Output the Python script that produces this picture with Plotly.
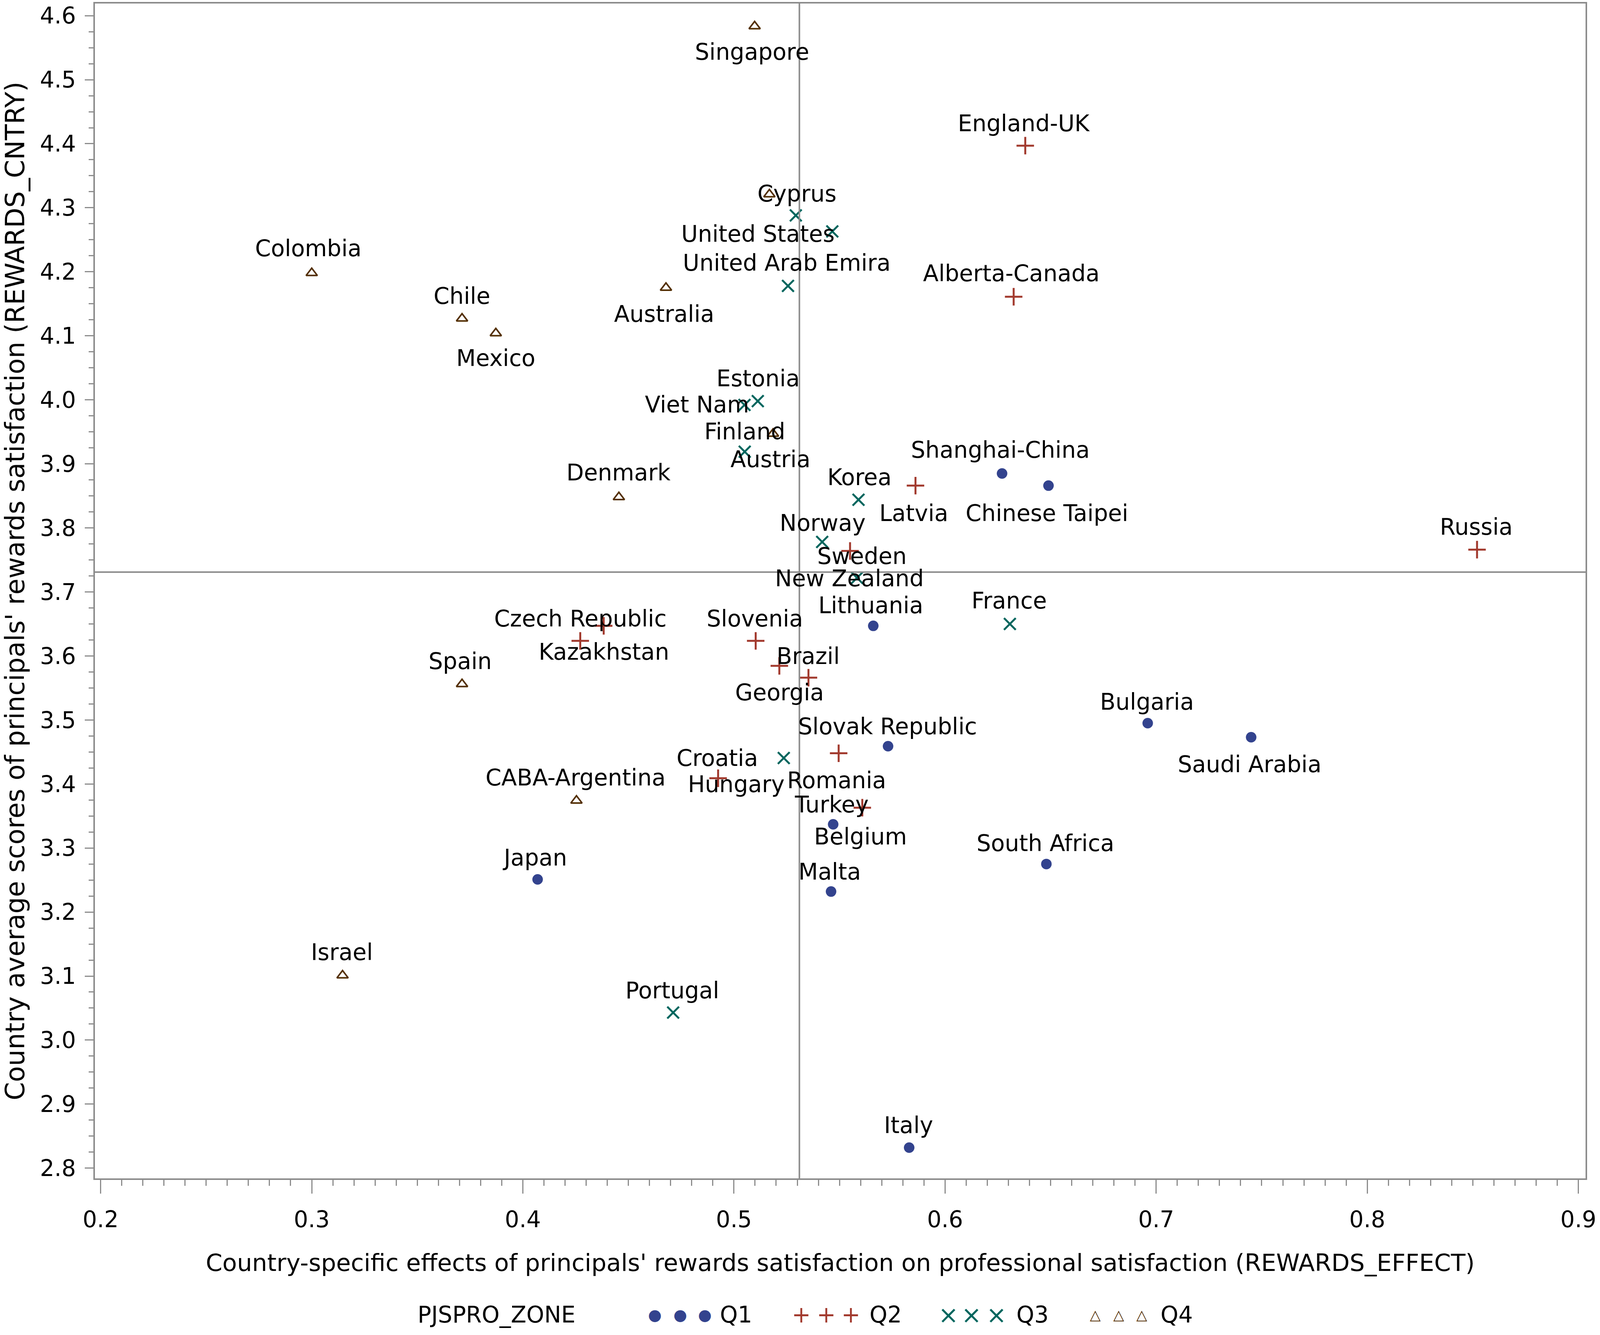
import plotly.graph_objects as go

# ---------------- data ----------------
q1_names = ["Shanghai-China", "Chinese Taipei", "Lithuania", "Slovak Republic", "Bulgaria",
            "Saudi Arabia", "Belgium", "Malta", "South Africa", "Japan", "Italy"]
q1_x = [0.627, 0.649, 0.566, 0.573, 0.696, 0.745, 0.547, 0.546, 0.648, 0.407, 0.583]
q1_y = [3.885, 3.866, 3.647, 3.459, 3.495, 3.473, 3.337, 3.232, 3.275, 3.251, 2.832]

q2_names = ["England-UK", "Alberta-Canada", "Latvia", "Russia", "Sweden", "Czech Republic",
            "Kazakhstan", "Slovenia", "Brazil", "Georgia", "Romania", "Hungary", "Turkey"]
q2_x = [0.638, 0.6325, 0.586, 0.852, 0.555, 0.4272, 0.4383, 0.5103, 0.5353, 0.5215, 0.5496, 0.4925, 0.5608]
q2_y = [4.397, 4.161, 3.866, 3.766, 3.764, 3.6235, 3.647, 3.6235, 3.566, 3.5845, 3.448, 3.409, 3.363]

q3_names = ["Cyprus", "United States", "United Arab Emira", "Estonia", "Viet Nam", "Finland",
            "Korea", "Norway", "New Zealand", "France", "Croatia", "Portugal"]
q3_x = [0.5293, 0.5466, 0.5256, 0.5113, 0.505, 0.5051, 0.559, 0.5418, 0.5583, 0.6307, 0.5236, 0.4712]
q3_y = [4.288, 4.263, 4.178, 3.998, 3.992, 3.919, 3.844, 3.778, 3.722, 3.650, 3.4405, 3.043]

q4_names = ["Singapore", "", "Colombia", "Chile", "Mexico", "Australia", "Denmark", "Austria",
            "Spain", "CABA-Argentina", "Israel"]
q4_x = [0.5098, 0.5168, 0.300, 0.3712, 0.3872, 0.4678, 0.4455, 0.5185, 0.3712, 0.4254, 0.3146]
q4_y = [4.5835, 4.321, 4.198, 4.127, 4.104, 4.175, 3.848, 3.947, 3.556, 3.374, 3.101]

zones = ["Q1", "Q2", "Q3", "Q4"]
legend_title = "PJSPRO_ZONE"
ref_x = 0.531
ref_y = 3.731
x_ticks = [0.2, 0.3, 0.4, 0.5, 0.6, 0.7, 0.8, 0.9]
y_ticks = [2.8, 2.9, 3.0, 3.1, 3.2, 3.3, 3.4, 3.5, 3.6, 3.7, 3.8, 3.9, 4.0, 4.1, 4.2, 4.3, 4.4, 4.5, 4.6]

# ---------------- styling / label placement (pixels, dx right, dy down) ----------------
W, H = 4096, 3418
HS = W / 4550.0
ML, MR, MT, MB = 243, 37, 9, 401
label_offsets = {
    "Shanghai-China": (-5, -60), "Chinese Taipei": (-5, 71), "Lithuania": (-7, -52),
    "Slovak Republic": (-2, -51), "Bulgaria": (-2, -55), "Saudi Arabia": (-4, 69),
    "Belgium": (78, 31), "Malta": (-4, -51), "South Africa": (-3, -53), "Japan": (-7, -55),
    "Italy": (-2, -57),
    "England-UK": (-3, -57), "Alberta-Canada": (-7, -60), "Latvia": (-5, 71), "Russia": (-2, -58),
    "Sweden": (34, 13), "Czech Republic": (1, -57), "Kazakhstan": (1, 67), "Slovenia": (-2, -57),
    "Brazil": (-1, -55), "Georgia": (1, 68), "Romania": (-5, 69), "Hungary": (52, 16),
    "Turkey": (-87, -8),
    "Cyprus": (3, -56), "United States": (-211, 6), "United Arab Emira": (-4, -59),
    "Estonia": (1, -58), "Viet Nam": (-135, -1), "Finland": (0, -51), "Korea": (2, -57),
    "Norway": (1, -49), "New Zealand": (-22, 2), "France": (-2, -59), "Croatia": (-189, 0),
    "Portugal": (-2, -56),
    "Singapore": (-7, 66), "Colombia": (-10, -63), "Chile": (0, -58), "Mexico": (0, 64),
    "Australia": (-5, 67), "Denmark": (-1, -63), "Austria": (-7, 65), "Spain": (-5, -59),
    "CABA-Argentina": (-2, -59), "Israel": (-2, -59),
}

FONT = "DejaVu Sans"
FS = 58
GRAY = "#8c8c8c"
colors = {"Q1": "#33438e", "Q2": "#a23a2e", "Q3": "#01665e", "Q4": "#543005"}
markers = {
    "Q1": dict(symbol="circle", size=27, color=colors["Q1"], line=dict(width=0)),
    "Q2": dict(symbol="cross-thin", size=32, color=colors["Q2"], line=dict(width=5, color=colors["Q2"])),
    "Q3": dict(symbol="x-thin", size=30, color=colors["Q3"], line=dict(width=5, color=colors["Q3"])),
    "Q4": dict(symbol="triangle-up-open", size=25, color=colors["Q4"], line=dict(width=4, color=colors["Q4"])),
}
# legend glyphs (drawn as text in the bottom margin, SAS style: three symbols per entry)
legend_glyph = {"Q1": ("\u25cf", 40), "Q2": ("+", 58), "Q3": ("\u00d7", 62), "Q4": ("\u25b3", 36)}
legend_sym_x = {"Q1": [1862, 1935, 2004], "Q2": [2279, 2350, 2420],
                "Q3": [2697, 2763, 2834], "Q4": [3115, 3181, 3247]}
legend_txt_x = {"Q1": 2045, "Q2": 2470, "Q3": 2888, "Q4": 3298}
legend_title_x = 1185
legend_y = 3366
axis_bottom = H - MB


def paper_x(px_ref):
    return (px_ref * HS - ML) / (W - ML - MR)


groups = {
    "Q1": (q1_names, q1_x, q1_y),
    "Q2": (q2_names, q2_x, q2_y),
    "Q3": (q3_names, q3_x, q3_y),
    "Q4": (q4_names, q4_x, q4_y),
}

fig = go.Figure()
annotations = []
for z in zones:
    names, xs, ys = groups[z]
    fig.add_trace(go.Scatter(x=xs, y=ys, mode="markers", name=z, marker=markers[z],
                             text=names, hoverinfo="text+x+y", showlegend=False))
    for n, xv, yv in zip(names, xs, ys):
        if not n:
            continue
        dx, dy = label_offsets.get(n, (0, -57))
        annotations.append(dict(x=xv, y=yv, xref="x", yref="y", text=n, showarrow=False,
                                xanchor="center", yanchor="middle", xshift=dx * HS, yshift=-dy,
                                font=dict(family=FONT, size=FS, color="black")))

# legend row
annotations.append(dict(xref="paper", yref="paper", x=paper_x(legend_title_x),
                        y=0, yshift=-(legend_y - axis_bottom), text=legend_title, showarrow=False,
                        xanchor="left", yanchor="middle", font=dict(family=FONT, size=FS, color="black")))
for z in zones:
    g, gs = legend_glyph[z]
    for sx in legend_sym_x[z]:
        annotations.append(dict(xref="paper", yref="paper", x=paper_x(sx),
                                y=0, yshift=-(legend_y - axis_bottom), text=g, showarrow=False,
                                xanchor="center", yanchor="middle",
                                font=dict(family=FONT, size=gs, color=colors[z])))
    annotations.append(dict(xref="paper", yref="paper", x=paper_x(legend_txt_x[z]),
                            y=0, yshift=-(legend_y - axis_bottom), text=z, showarrow=False,
                            xanchor="left", yanchor="middle", font=dict(family=FONT, size=FS, color="black")))

fig.add_hline(y=ref_y, line=dict(color=GRAY, width=4))
fig.add_vline(x=ref_x, line=dict(color=GRAY, width=4))

fig.update_layout(
    width=W, height=H,
    margin=dict(l=ML, r=MR, t=MT, b=MB),
    paper_bgcolor="white", plot_bgcolor="white",
    font=dict(family=FONT, size=FS, color="black"),
    annotations=annotations,
    showlegend=False,
    xaxis=dict(range=[0.1973, 0.9034], tickvals=x_ticks, ticktext=[f"{v:.1f}" for v in x_ticks],
               showgrid=False, zeroline=False, showline=True, mirror=True, linecolor=GRAY,
               linewidth=4, ticks="outside", ticklen=35, tickwidth=3, tickcolor=GRAY,
               minor=dict(dtick=0.01, ticks="outside", ticklen=15, tickwidth=3, tickcolor=GRAY,
                          showgrid=False),
               ticklabelstandoff=16,
               tickfont=dict(family=FONT, size=FS, color="black"), automargin=False,
               title=dict(text="Country-specific effects of principals' rewards satisfaction on professional satisfaction (REWARDS_EFFECT)",
                          font=dict(family=FONT, size=61, color="black"), standoff=58)),
    yaxis=dict(range=[2.784, 4.619], tickvals=y_ticks, ticktext=[f"{v:.1f}" for v in y_ticks],
               showgrid=False, zeroline=False, showline=True, mirror=True, linecolor=GRAY,
               linewidth=4, ticks="outside", ticklen=22, tickwidth=3, tickcolor=GRAY,
               minor=dict(dtick=0.025, ticks="outside", ticklen=12, tickwidth=3, tickcolor=GRAY,
                          showgrid=False),
               ticklabelstandoff=11,
               tickfont=dict(family=FONT, size=FS, color="black"), automargin=False,
               title=dict(text="Country average scores of principals' rewards satisfaction (REWARDS_CNTRY)",
                          font=dict(family=FONT, size=67, color="black"), standoff=28)),
)

post = "document.body.style.margin='0';"
fig.write_html("out.html", post_script=post, config={"displayModeBar": False})
